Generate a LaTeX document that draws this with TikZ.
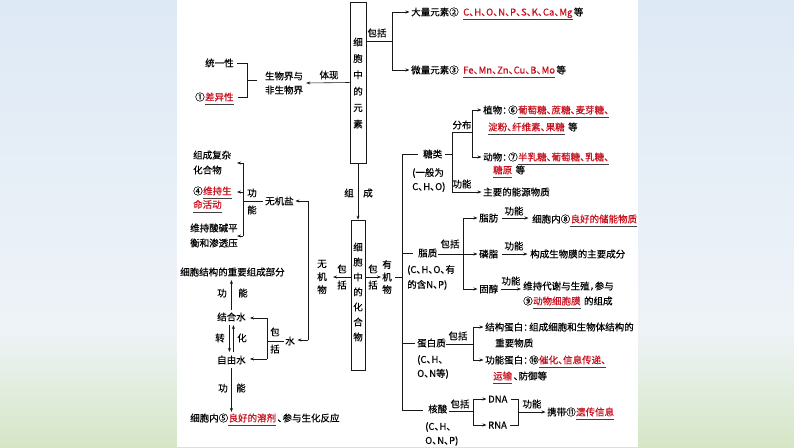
\documentclass[tikz,border=0pt]{standalone}
\usepackage{fontspec}
\setmainfont{Noto Sans CJK SC}[FakeBold=0.4]
\usetikzlibrary{arrows.meta}
\definecolor{ansred}{RGB}{200,16,30}
\definecolor{bgtop}{RGB}{222,233,246}
\definecolor{bgmid}{RGB}{238,243,247}
\definecolor{bggrass}{RGB}{214,230,198}
\newcommand\fz{\fontsize{9.5pt}{11pt}\selectfont}
\newcommand\dun{\makebox[5pt][l]{、}}
\newcommand\mh{\makebox[6pt][l]{：}}
\newcommand\dou{\makebox[5pt][l]{，}}
\begin{document}
\begin{tikzpicture}[x=1pt,y=-1pt,
  txt/.style={inner sep=0pt, anchor=west, font=\fz, text height=8.4pt, text depth=1.2pt},
  txtc/.style={txt, anchor=center},
  anst/.style={txt, text=ansred},
  ml/.style={inner sep=0pt, anchor=west, align=left, font={\fontsize{9.5pt}{#1}\selectfont}},
  vt/.style={inner sep=0pt, align=center, font={\fontsize{9.5pt}{#1}\selectfont}},
  lnk/.style={line width=0.6pt, draw=black!90},
  ark/.style={lnk, -{Stealth[length=4pt,width=3pt]}},
  unl/.style={line width=0.7pt, draw=black!75},
  boxk/.style={draw=black!90, line width=0.7pt, inner sep=0pt, fill=white},
]
\useasboundingbox (0,0) rectangle (794,447);
\fill[top color=bgtop, bottom color=bgmid] (0,0) rectangle (794,330);
\fill[top color=bgmid, bottom color=bggrass] (0,330) rectangle (794,447);
\fill[white] (177,0) rectangle (638,447);

% ---------- element box ----------
\node[boxk, minimum width=16pt, minimum height=161pt] (box1) at (358,82.5) {};
\node[vt=16.4pt] (box1t) at (358,83) {细\\胞\\中\\的\\元\\素};

\node[txtc] (bao1) at (377,33) {包括};
\coordinate (b1r) at (392,41);
\coordinate (b1t) at (392,12);
\coordinate (b1b) at (392,70);
\draw[lnk] (box1.east |- b1r) -- (b1r);
\draw[lnk] (b1t) -- (b1b);
\node[txt] (dl) at (411,12) {大量元素②};
\node[txt] (wl) at (411,70) {微量元素③};
\draw[ark] (b1t) -- ([xshift=-1.5pt]dl.west);
\draw[ark] (b1b) -- ([xshift=-1.5pt]wl.west);
\node[anst] (r2) at (463,12) {C\dun H\dun O\dun N\dun P\dun S\dun K\dun Ca\dun Mg};
\node[txt] (d2) at ([xshift=1pt]r2.east) {等};
\node[anst] (r3) at (463,70) {Fe\dun Mn\dun Zn\dun Cu\dun B\dun Mo};
\node[txt] (d3) at ([xshift=1pt]r3.east) {等};

\node[txtc] (tixian) at (329,75) {体现};
\node[vt=14pt] (swj) at (284,83) {生物界与\\非生物界};
\draw[ark] (box1.west) -- ([xshift=3pt]swj.east);
\node[txt] (tyx) at (205,63) {统一性};
\node[txt] (n1) at (195,97) {①};
\node[anst] (cyx) at (n1.east) {差异性};
\coordinate (k1) at (247,63);
\coordinate (k2) at (247,97);
\coordinate (k0) at (247,80);
\coordinate (k3) at (257,80);
\draw[lnk] ([xshift=3.5pt]tyx.east) -- (k1) -- (k2) -- ([xshift=4pt]cyx.east);
\draw[lnk] (k0) -- (k3);

% ---------- compound box ----------
\node[boxk, minimum width=14pt, minimum height=150pt] (box2) at (358,295) {};
\node[vt=15pt] (box2t) at (358,292) {细\\胞\\中\\的\\化\\合\\物};
\draw[ark] (box1.south) -- (box2.north);
\node[txtc] (zu) at (349,193) {组};
\node[txtc] (cheng) at (368,193) {成};

% left: inorganic
\coordinate (blend) at (333,277);
\draw[ark] (box2.west |- blend) -- (blend);
\node[vt=16pt] (bk2) at (342,277) {包\\括};
\node[vt=13pt] (wjw) at (322,277) {无\\机\\物};
\coordinate (vl1) at (308,201);
\coordinate (vl2) at (308,340);
\draw[lnk] (vl1) -- (vl2);
\node[txt] (wjy) at (265,201) {无机盐};
\node[txtc] (shui) at (290,341) {水};
\draw[ark] (vl1) -- ([xshift=1.5pt]wjy.east);
\draw[ark] (vl2) -- ([xshift=2.5pt]shui.east |- vl2);

\coordinate (g1) at (243,163);
\coordinate (g2) at (243,236);
\coordinate (g3) at (243,192);
\coordinate (gm) at (243,201);
\coordinate (ga1) at (237,163);
\coordinate (ga2) at (237,192);
\coordinate (ga3) at (237,236);
\draw[lnk] (g1) -- (g2);
\draw[lnk] (gm) -- ([xshift=-2pt]wjy.west);
\node[vt=17pt] (gn1) at (252,201.5) {功\\能};
\draw[ark] (g1) -- (ga1);
\draw[ark] (g3) -- (ga2);
\draw[ark] (g2) -- (ga3);
\node[ml=15pt] (zc) at (193,162.5) {组成复杂\\化合物};
\node[txt] (n4) at (193,191) {④};
\node[anst] (wc1) at (n4.east) {维持生};
\node[anst] (wc2) at (193,204.5) {命活动};
\node[ml=15pt] (wj) at (190,235.5) {维持酸碱平\\衡和渗透压};

\coordinate (s1) at (267,318);
\coordinate (s2) at (267,359);
\coordinate (sm) at (267,341);
\draw[lnk] (s1) -- (s2);
\draw[lnk] (sm) -- ([xshift=-1pt]shui.west);
\node[vt=17pt] (bk3) at (275,340.5) {包\\括};
\node[txt] (jhs) at (217,317) {结合水};
\node[txt] (zys) at (217,360) {自由水};
\draw[ark] (s1) -- ([xshift=4pt]jhs.east |- s1);
\draw[ark] (s2) -- ([xshift=4pt]zys.east |- s2);

\node[txt] (xbjg) at (180,272) {细胞结构的重要组成部分};
\draw[ark] ([yshift=2pt]jhs.north) -- ([yshift=-3pt]jhs.north |- xbjg.south);
\node[txtc] (gn7) at (222,293) {功};
\node[txtc] (gn8) at (243,293) {能};
\node[txtc] (zhuan) at (220,338) {转};
\node[txtc] (hua) at (242,338) {化};
\draw[ark] ([xshift=-2pt,yshift=-3pt]jhs.south) -- ([xshift=-2pt,yshift=3pt]zys.north);
\draw[ark] ([xshift=2pt,yshift=3pt]zys.north) -- ([xshift=2pt,yshift=-3pt]jhs.south);

\node[txt] (xbn) at (190,418) {细胞内⑤};
\node[anst] (lhrj) at (xbn.east) {良好的溶剂};
\node[txt] (cy) at ([xshift=1pt]lhrj.east) {\dun 参与生化反应};
\draw[ark] ([yshift=-3pt]zys.south) -- ([yshift=1pt]zys.south |- xbn.north);
\node[txtc] (gn9) at (223,388) {功};
\node[txtc] (gn10) at (241,388) {能};

% right: organic
\coordinate (br1) at (381,277);
\draw[ark] (box2.east |- br1) -- (br1);
\node[vt=16pt] (bk4) at (373,277) {包\\括};
\node[vt=12.5pt] (yjw) at (387,277) {有\\机\\物};
\coordinate (mt) at (402,154);
\coordinate (mb) at (402,410);
\draw[lnk] (mt) -- (mb);
\draw[lnk] ([xshift=3.2pt]yjw.east) -- (yjw.east -| mt);

% sugars
\node[txt] (tl) at (423,154) {糖类};
\draw[lnk] (mt) -- ([xshift=-5pt]tl.west);
\node[ml=14pt] (tlc) at (412,180) {(一般为\\C\dun H\dun O)};
\coordinate (t1) at (452,132);
\coordinate (t2) at (452,192);
\coordinate (t3) at (472,132);
\coordinate (t4) at (472,110);
\coordinate (t5) at (472,157);
\draw[lnk] ([xshift=3pt]tl.east) -- (tl.east -| t1);
\draw[lnk] (t1) -- (t2);
\draw[lnk] (t1) -- (t3);
\draw[lnk] (t4) -- (t5);
\node[txtc] (fb) at (462,125) {分布};
\node[txt] (zw) at (483,110) {植物\mh⑥};
\draw[ark] (t4) -- ([xshift=-1.5pt]zw.west);
\node[anst] (r6a) at (zw.east) {葡萄糖\dun 蔗糖\dun 麦芽糖\dun};
\node[anst] (r6b) at (488,127) {淀粉\dun 纤维素\dun 果糖};
\node[txt] (d6) at ([xshift=3pt]r6b.east) {等};
\node[txt] (dw) at (483,157) {动物\mh⑦};
\draw[ark] (t5) -- ([xshift=-1.5pt]dw.west);
\node[anst] (r7a) at (dw.east) {半乳糖\dun 葡萄糖\dun 乳糖\dun};
\node[anst] (r7b) at (493,170) {糖原};
\node[txt] (d7) at ([xshift=3pt]r7b.east) {等};
\node[txtc] (gn2) at (462,184) {功能};
\node[txt] (nyw) at (483,192) {主要的能源物质};
\draw[ark] (t2) -- ([xshift=-1.5pt]nyw.west);

% lipids
\node[txt] (zz) at (418,253) {脂质};
\draw[lnk] (mt |- zz.west) -- ([xshift=-5pt]zz.west);
\node[ml=15pt] (zzc) at (407,277.5) {(C\dun H\dun O\dun 有\\的含N\dun P)};
\coordinate (z1) at (463,218);
\coordinate (z2) at (463,289);
\coordinate (zm) at (463,254);
\draw[lnk] ([xshift=1pt]zz.east |- zm) -- (zm);
\draw[lnk] (z1) -- (z2);
\node[txtc] (bk5) at (450,244) {包括};
\node[txt] (zf) at (479,218) {脂肪};
\node[txt] (lz) at (479,254) {磷脂};
\node[txt] (gc) at (479,289) {固醇};
\draw[ark] (z1) -- ([xshift=-1.5pt]zf.west);
\draw[ark] (zm) -- ([xshift=-1.5pt]lz.west);
\draw[ark] (z2) -- ([xshift=-1.5pt]gc.west);
\node[txtc] (gn3) at (514,211) {功能};
\node[txt] (xb8) at (532,219) {细胞内⑧};
\node[anst] (r8) at (xb8.east) {良好的储能物质};
\draw[ark] ([xshift=4pt]zf.east) -- ([xshift=-3.5pt]xb8.west |- zf.east);
\node[txtc] (gn4) at (514,246) {功能};
\node[txt] (gcw) at (530,254) {构成生物膜的主要成分};
\draw[ark] ([xshift=4pt]lz.east) -- ([xshift=-2.5pt]gcw.west |- lz.east);
\node[txtc] (gn5) at (511,281) {功能};
\node[txt] (wcd) at (523,286) {维持代谢与生殖\dou 参与};
\draw[ark] ([xshift=3pt]gc.east) -- ([xshift=-2pt]wcd.west |- gc.east);
\node[txt] (n9) at (523,301) {⑨};
\node[anst] (r9) at (n9.east) {动物细胞膜};
\node[txt] (dzc) at ([xshift=3pt]r9.east) {的组成};

% proteins
\node[txt] (dbz) at (417,343) {蛋白质};
\draw[lnk] (mt |- dbz.west) -- ([xshift=-2pt]dbz.west);
\node[ml=14pt] (dbzc) at (417,367) {(C\dun H\dun\\O\dun N等)};
\coordinate (d1) at (473,327);
\coordinate (d2) at (473,360);
\coordinate (dm) at (473,344);
\draw[lnk] (dbz.east |- dm) -- (dm);
\draw[lnk] (d1) -- (d2);
\node[txtc] (bk6) at (458,336) {包括};
\node[txt] (jgdb) at (485,327) {结构蛋白\mh 组成细胞和生物体结构的};
\node[txt] (zywz) at (495,343) {重要物质};
\node[txt] (gndb) at (485,360) {功能蛋白\mh⑩};
\draw[ark] (d1) -- ([xshift=-1.5pt]jgdb.west);
\draw[ark] (d2) -- ([xshift=-1.5pt]gndb.west);
\node[anst] (r10a) at (gndb.east) {催化\dun 信息传递\dun};
\node[anst] (r10b) at (493,376) {运输};
\node[txt] (fy) at ([xshift=1pt]r10b.east) {\dun 防御等};

% nucleic acids
\node[txt] (hs) at (428,409) {核酸};
\draw[lnk] (mb) -- ([xshift=-5pt]hs.west |- mb);
\node[ml=14pt] (hsc) at (425,434) {(C\dun H\dun\\O\dun N\dun P)};
\coordinate (h1) at (473,399);
\coordinate (h2) at (473,425);
\coordinate (hm) at (473,411);
\draw[lnk] ([xshift=2pt]hs.east |- hm) -- (hm);
\draw[lnk] (h1) -- (h2);
\node[txtc] (bk7) at (460,404) {包括};
\node[txt] (dna) at (488,399) {DNA};
\node[txt] (rna) at (488,425) {RNA};
\draw[ark] (h1) -- ([xshift=-1.5pt]dna.west);
\draw[ark] (h2) -- ([xshift=-1.5pt]rna.west);
\coordinate (q1) at (518,399);
\coordinate (q2) at (518,425);
\coordinate (qm) at (518,412);
\draw[lnk] ([xshift=3pt]dna.east) -- (q1) -- (q2) -- ([xshift=3pt]rna.east);
\node[txt] (xd) at (547,412) {携带⑪};
\draw[ark] (qm) -- ([xshift=-1.5pt]xd.west);
\node[txtc] (gn6) at (532,404) {功能};
\node[anst] (r11) at (xd.east) {遗传信息};

% underlines of the answers
\foreach \n in {r2,r3,cyx,wc1,wc2,lhrj,r6a,r6b,r7a,r7b,r8,r9,r10a,r10b,r11}
  \draw[unl] ([yshift=-4pt]\n.base west) -- ([yshift=-4pt]\n.base east);
\end{tikzpicture}
\end{document}
